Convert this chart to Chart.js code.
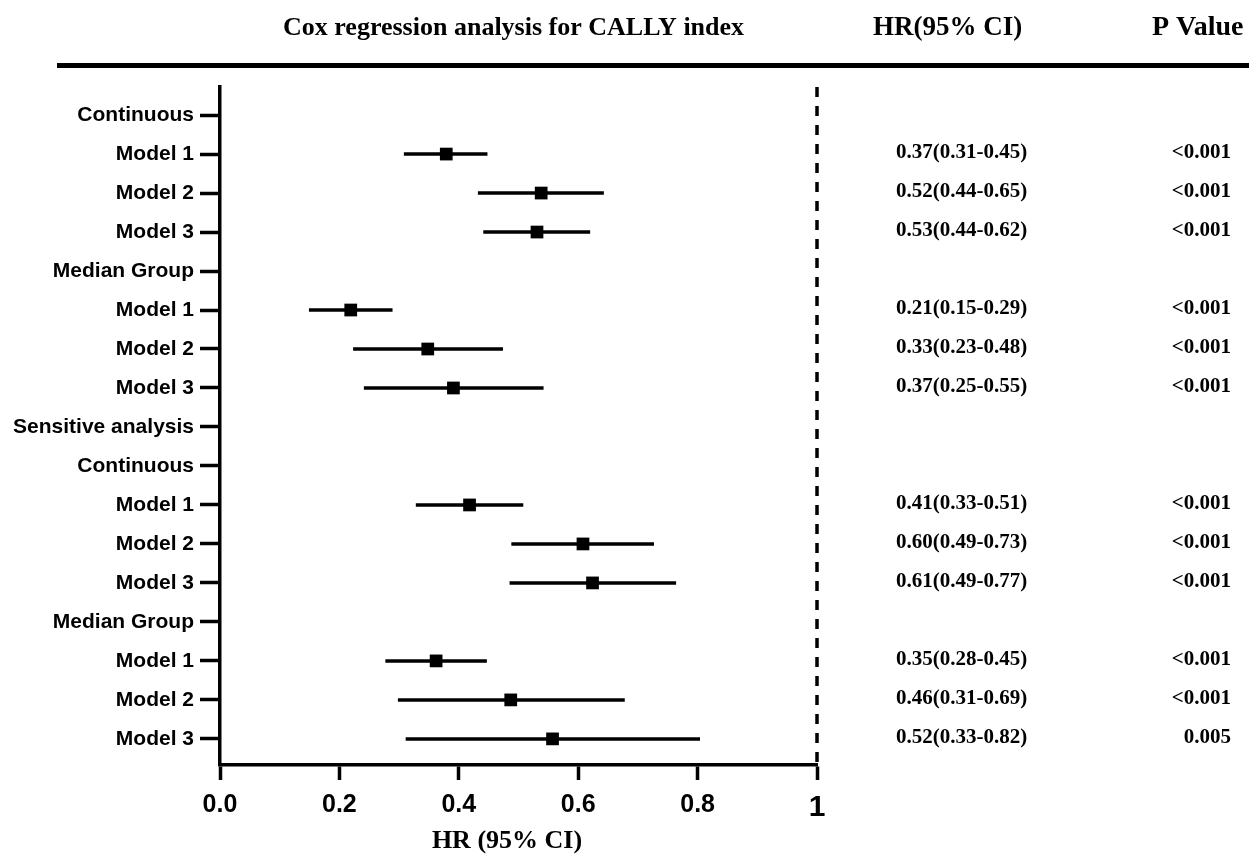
<!DOCTYPE html>
<html>
<head>
<meta charset="utf-8">
<script src="https://cdn.jsdelivr.net/npm/chart.js@4.4.0/dist/chart.umd.min.js"></script>
<style>
  html, body { margin: 0; padding: 0; background: #fff; }
  #wrap { width: 1249px; height: 854px; }
</style>
</head>
<body>
<div id="wrap"><canvas id="forest"></canvas></div>
<script>
// rows, top to bottom
const categories = [
    'Continuous', 'Model 1', 'Model 2', 'Model 3',
    'Median Group', 'Model 1', 'Model 2', 'Model 3',
    'Sensitive analysis', 'Continuous', 'Model 1', 'Model 2', 'Model 3',
    'Median Group', 'Model 1', 'Model 2', 'Model 3'
];
// plotted HR and CI, null = heading row
const hrValues = [null, 0.379, 0.538, 0.531, null, 0.219, 0.348, 0.391, null, null, 0.418, 0.608, 0.624, null, 0.362, 0.487, 0.557];
const ciLow    = [null, 0.308, 0.432, 0.441, null, 0.149, 0.223, 0.241, null, null, 0.328, 0.488, 0.485, null, 0.277, 0.298, 0.311];
const ciHigh   = [null, 0.448, 0.643, 0.620, null, 0.289, 0.474, 0.542, null, null, 0.508, 0.727, 0.764, null, 0.447, 0.678, 0.804];
// table columns
const hrText = ['', '0.37(0.31-0.45)', '0.52(0.44-0.65)', '0.53(0.44-0.62)', '', '0.21(0.15-0.29)', '0.33(0.23-0.48)', '0.37(0.25-0.55)',
    '', '', '0.41(0.33-0.51)', '0.60(0.49-0.73)', '0.61(0.49-0.77)', '', '0.35(0.28-0.45)', '0.46(0.31-0.69)', '0.52(0.33-0.82)'];
const pText = ['', '<0.001', '<0.001', '<0.001', '', '<0.001', '<0.001', '<0.001',
    '', '', '<0.001', '<0.001', '<0.001', '', '<0.001', '<0.001', '0.005'];
const xTicks = [0, 0.2, 0.4, 0.6, 0.8, 1];
const refLine = 1;

const serif = '"Liberation Serif", "Times New Roman", serif';
const sans = '"Liberation Sans", Arial, sans-serif';

// one line dataset per CI
const ciSets = [];
categories.forEach((c, i) => {
    if (hrValues[i] === null) return;
    ciSets.push({
        type: 'line',
        data: [{x: ciLow[i], y: i}, {x: ciHigh[i], y: i}],
        borderColor: '#000',
        borderWidth: 3.5,
        borderCapStyle: 'butt',
        pointRadius: 0,
        order: 2
    });
});

const pointSet = {
    type: 'scatter',
    data: hrValues.map((v, i) => v === null ? null : {x: v, y: i}).filter(p => p),
    pointStyle: 'rect',
    pointRadius: 9,
    backgroundColor: '#000',
    borderColor: '#000',
    borderWidth: 0,
    order: 0
};

const yMin = -0.72, yMax = 16.67;
const dashSet = {
    type: 'line',
    data: [{x: refLine, y: yMin}, {x: refLine, y: yMax}],
    borderColor: '#000',
    borderWidth: 3.5,
    borderDash: [10, 9],
    pointRadius: 0,
    clip: false,
    order: 1
};

const tablePlugin = {
    id: 'tablePlugin',
    afterDraw(chart) {
        const ctx = chart.ctx;
        const ys = chart.scales.y;
        ctx.save();
        ctx.fillStyle = '#000';
        ctx.textBaseline = 'middle';
        ctx.textAlign = 'left';
        ctx.font = 'bold 26px ' + serif;
        ctx.fillText('Cox regression analysis for CALLY index', 283, 28);
        ctx.font = 'bold 27px ' + serif;
        ctx.fillText('HR(95% CI)', 873, 28);
        ctx.font = 'bold 28px ' + serif;
        ctx.fillText('P Value', 1152, 28);
        ctx.fillRect(57, 63, 1192, 5);

        ctx.font = 'bold 21px ' + serif;
        categories.forEach((c, i) => {
            const y = ys.getPixelForValue(i) - 1;
            ctx.textAlign = 'left';
            if (hrText[i]) ctx.fillText(hrText[i], 896, y);
            ctx.textAlign = 'right';
            if (pText[i]) ctx.fillText(pText[i], 1231, y);
        });

        ctx.font = 'bold 26px ' + serif;
        ctx.textAlign = 'center';
        ctx.fillText('HR (95% CI)', 507, 841);
        ctx.restore();
    }
};

new Chart(document.getElementById('forest'), {
    data: { datasets: [pointSet, dashSet, ...ciSets] },
    options: {
        responsive: true,
        maintainAspectRatio: false,
        animation: false,
        layout: { padding: { top: 87, right: 432, bottom: 0, left: 0 } },
        plugins: { legend: { display: false }, tooltip: { enabled: false } },
        scales: {
            x: {
                type: 'linear',
                min: 0,
                max: 1,
                afterFit: s => { s.height = 89; },
                afterBuildTicks: s => { s.ticks = xTicks.map(v => ({value: v})); },
                border: { display: true, color: '#000', width: 3.5 },
                grid: { drawOnChartArea: false, drawTicks: true, tickLength: 15, tickWidth: 3.5, tickColor: '#000' },
                ticks: {
                    color: '#000',
                    padding: 10,
                    font: ctx => ({ family: sans, weight: 'bold', size: ctx.tick && ctx.tick.value === 1 ? 30 : 25 }),
                    callback: v => v === 1 ? '1' : v.toFixed(1)
                }
            },
            y: {
                type: 'linear',
                reverse: true,
                min: yMin,
                max: yMax,
                afterFit: s => { s.width = 220; },
                afterBuildTicks: s => { s.ticks = categories.map((c, i) => ({value: i})); },
                border: { display: true, color: '#000', width: 3.5 },
                grid: { drawOnChartArea: false, drawTicks: true, tickLength: 20, tickWidth: 3.5, tickColor: '#000' },
                ticks: {
                    color: '#000',
                    padding: 6,
                    font: { family: sans, weight: 'bold', size: 21 },
                    callback: v => categories[v]
                }
            }
        }
    },
    plugins: [tablePlugin]
});
</script>
</body>
</html>
